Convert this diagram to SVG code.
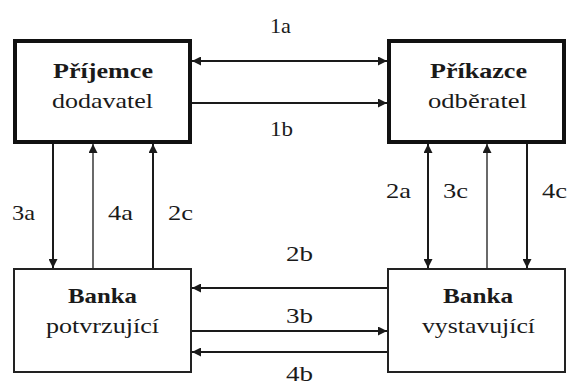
<svg xmlns="http://www.w3.org/2000/svg" width="568" height="385" viewBox="0 0 568 385">
<defs>
<marker id="ah" viewBox="0 0 10 10" refX="10" refY="5" markerWidth="9" markerHeight="9" markerUnits="userSpaceOnUse" orient="auto-start-reverse">
<path d="M0,0 L10,5 L0,10 z" fill="#1a1a1a"/>
</marker>
</defs>
<style>
.box1{fill:#fff;stroke:#111;stroke-width:4}
.box2{fill:#fff;stroke:#222;stroke-width:2}
.c{stroke:#1a1a1a;stroke-width:2;fill:none}
.thin{stroke-width:1.3}
</style>
<rect width="568" height="385" fill="#fff"/>
<g font-family="Liberation Serif, Times New Roman, serif" font-size="21" fill="#1a1a1a">
<g id="connectors">
<line class="c" x1="192" y1="61" x2="387" y2="61" marker-start="url(#ah)" marker-end="url(#ah)"/>
<line class="c" x1="192" y1="103" x2="387" y2="103" marker-end="url(#ah)"/>
<line class="c" x1="53" y1="144" x2="53" y2="268" marker-end="url(#ah)"/>
<line class="c thin" x1="93" y1="268" x2="93" y2="144" marker-end="url(#ah)"/>
<line class="c" x1="153" y1="268" x2="153" y2="144" marker-end="url(#ah)"/>
<line class="c" x1="428" y1="144" x2="428" y2="268" marker-start="url(#ah)" marker-end="url(#ah)"/>
<line class="c thin" x1="487" y1="268" x2="487" y2="144" marker-end="url(#ah)"/>
<line class="c" x1="527" y1="144" x2="527" y2="268" marker-end="url(#ah)"/>
<line class="c" x1="387" y1="288" x2="192" y2="288" marker-end="url(#ah)"/>
<line class="c" x1="192" y1="331" x2="387" y2="331" marker-end="url(#ah)"/>
<line class="c" x1="387" y1="352" x2="192" y2="352" marker-end="url(#ah)"/>
<text x="270" y="33" textLength="21" lengthAdjust="spacingAndGlyphs">1a</text>
<text x="270" y="136" textLength="23" lengthAdjust="spacingAndGlyphs">1b</text>
<text x="12" y="220" textLength="23" lengthAdjust="spacingAndGlyphs">3a</text>
<text x="108" y="220" textLength="25" lengthAdjust="spacingAndGlyphs">4a</text>
<text x="168" y="220" textLength="25" lengthAdjust="spacingAndGlyphs">2c</text>
<text x="386" y="198" textLength="25" lengthAdjust="spacingAndGlyphs">2a</text>
<text x="443" y="198" textLength="25" lengthAdjust="spacingAndGlyphs">3c</text>
<text x="542" y="198" textLength="25" lengthAdjust="spacingAndGlyphs">4c</text>
<text x="286" y="261" textLength="27" lengthAdjust="spacingAndGlyphs">2b</text>
<text x="286" y="323" textLength="27" lengthAdjust="spacingAndGlyphs">3b</text>
<text x="286" y="381" textLength="27" lengthAdjust="spacingAndGlyphs">4b</text>
</g>
<g id="prijemce">
<rect class="box1" x="15" y="41" width="175" height="101"/>
<text font-weight="bold" x="53" y="78" textLength="100" lengthAdjust="spacingAndGlyphs">Příjemce</text>
<text x="52" y="108" textLength="101" lengthAdjust="spacingAndGlyphs">dodavatel</text>
</g>
<g id="prikazce">
<rect class="box1" x="389" y="41" width="175" height="101"/>
<text font-weight="bold" x="430" y="78" textLength="97" lengthAdjust="spacingAndGlyphs">Příkazce</text>
<text x="428" y="108" textLength="99" lengthAdjust="spacingAndGlyphs">odběratel</text>
</g>
<g id="banka-potvrzujici">
<rect class="box2" x="14" y="269" width="177" height="103"/>
<text font-weight="bold" x="68" y="303" textLength="69" lengthAdjust="spacingAndGlyphs">Banka</text>
<text x="46" y="333" textLength="113" lengthAdjust="spacingAndGlyphs">potvrzující</text>
</g>
<g id="banka-vystavujici">
<rect class="box2" x="388" y="269" width="177" height="103"/>
<text font-weight="bold" x="443" y="303" textLength="70" lengthAdjust="spacingAndGlyphs">Banka</text>
<text x="422" y="333" textLength="113" lengthAdjust="spacingAndGlyphs">vystavující</text>
</g>
</g>
</svg>
